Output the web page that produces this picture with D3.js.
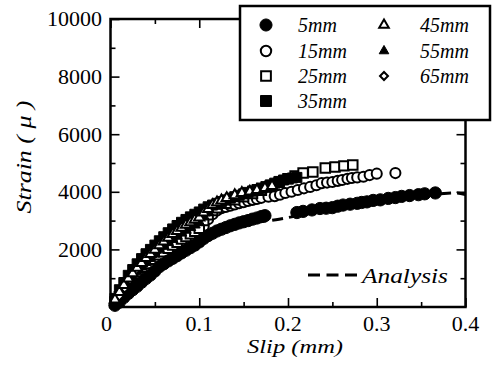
<!DOCTYPE html>
<html>
<head>
<meta charset="utf-8">
<script src="https://cdn.jsdelivr.net/npm/d3@7"></script>
<style>
  html, body { margin: 0; padding: 0; background: #fff; }
  svg { display: block; }
</style>
</head>
<body>
<script>
// Bond-slip test: strain against slip for each embedment depth, plus analysis curve
const xTicks = [0, 0.1, 0.2, 0.3, 0.4];
const yTicks = [2000, 4000, 6000, 8000, 10000];
const seriesNames = ["5mm", "15mm", "25mm", "35mm", "45mm", "55mm", "65mm"];

// [slip (mm), strain (μ)]
const s5mm = [
  [0.005,60],[0.01,170],[0.015,330],[0.02,470],[0.025,600],[0.03,720],[0.035,860],
  [0.04,990],[0.045,1110],[0.05,1250],[0.055,1400],[0.06,1500],[0.065,1600],[0.07,1690],
  [0.075,1780],[0.08,1880],[0.085,1970],[0.09,2060],[0.095,2150],[0.1,2260],[0.105,2380],
  [0.11,2480],[0.115,2560],[0.12,2640],[0.125,2700],[0.13,2760],[0.135,2820],[0.14,2870],
  [0.145,2920],[0.15,2960],[0.155,3000],[0.16,3050],[0.165,3090],[0.17,3140],[0.174,3170],
  [0.21,3280],[0.217,3320],[0.227,3370],[0.236,3420],[0.243,3430],[0.25,3450],[0.256,3500],
  [0.262,3540],[0.27,3570],[0.278,3600],[0.283,3630],[0.289,3650],[0.296,3700],[0.304,3720],
  [0.313,3770],[0.321,3800],[0.328,3840],[0.337,3870],[0.347,3900],[0.354,3930],[0.366,3960]
];
const s15mm = [
  [0.005,120],[0.01,280],[0.015,460],[0.02,630],[0.025,780],[0.03,920],[0.035,1070],
  [0.04,1200],[0.045,1330],[0.05,1480],[0.055,1630],[0.06,1740],[0.065,1850],[0.07,1950],
  [0.075,2040],[0.08,2150],[0.085,2240],[0.09,2330],[0.095,2420],[0.1,2520],[0.105,2800],
  [0.11,3050],[0.115,3220],[0.12,3350],[0.125,3430],[0.13,3470],[0.135,3520],[0.14,3560],
  [0.145,3600],[0.15,3640],[0.155,3680],[0.16,3720],[0.165,3750],[0.17,3790],[0.178,3830],
  [0.185,3850],[0.191,3900],[0.197,3960],[0.204,4000],[0.211,4060],[0.218,4120],
  [0.225,4170],[0.232,4230],[0.238,4300],[0.244,4320],[0.25,4340],[0.256,4380],
  [0.261,4410],[0.267,4450],[0.272,4480],[0.278,4500],[0.285,4520],[0.292,4580],
  [0.3,4630],[0.321,4650]
];
const s25mm = [
  [0.005,170],[0.01,360],[0.015,560],[0.02,750],[0.025,920],[0.03,1070],[0.035,1230],
  [0.04,1380],[0.045,1510],[0.05,1660],[0.055,1810],[0.06,1920],[0.065,2040],[0.07,2150],
  [0.075,2250],[0.08,2360],[0.085,2450],[0.09,2540],[0.095,2630],[0.1,2730],[0.105,3000],
  [0.11,3200],[0.115,3350],[0.12,3450],[0.13,3600],[0.14,3720],[0.15,3830],[0.16,3940],
  [0.17,4050],[0.18,4180],[0.19,4330],[0.2,4450],[0.208,4550],
  [0.217,4650],[0.228,4690],[0.242,4830],[0.253,4860],[0.263,4900],[0.273,4930]
];
const s35mm = [
  [0.005,300],[0.01,600],[0.015,850],[0.02,1100],[0.025,1300],[0.03,1500],[0.035,1680],
  [0.04,1850],[0.045,2000],[0.05,2150],[0.055,2300],[0.06,2440],[0.065,2580],[0.07,2710],
  [0.075,2830],[0.08,2940],[0.085,3040],[0.09,3130],[0.095,3220],[0.1,3300],[0.105,3400],
  [0.11,3480],[0.115,3540],[0.12,3600],[0.125,3660],[0.13,3720],[0.135,3780],[0.14,3830],
  [0.145,3880],[0.15,3930],[0.155,3980],[0.16,4030],[0.165,4080],[0.17,4130],[0.175,4180],
  [0.18,4240],[0.185,4300],[0.19,4360],[0.195,4410],[0.2,4450],[0.205,4480],[0.21,4500]
];
const s45mm = [
  [0.005,260],[0.01,520],[0.015,760],[0.02,990],[0.025,1170],[0.03,1360],[0.035,1530],
  [0.04,1700],[0.045,1840],[0.05,1990],[0.055,2140],[0.06,2270],[0.065,2400],[0.07,2530],
  [0.075,2640],[0.08,2750],[0.085,2850],[0.09,2940],[0.095,3030],[0.1,3110],[0.105,3280],
  [0.11,3400],[0.115,3540],[0.12,3630],[0.125,3700],[0.131,3780],[0.14,3880],[0.148,3960],
  [0.157,4010],[0.165,4060],[0.174,4130],[0.182,4200]
];
const s55mm = [
  [0.005,220],[0.01,450],[0.015,670],[0.02,880],[0.025,1060],[0.03,1230],[0.035,1390],
  [0.04,1550],[0.045,1690],[0.05,1840],[0.055,1990],[0.06,2110],[0.065,2240],[0.07,2350],
  [0.075,2460],[0.08,2570],[0.085,2670],[0.09,2760],[0.095,2850],[0.1,2940],[0.105,3150],
  [0.11,3300],[0.12,3500],[0.13,3650],[0.14,3770],[0.15,3870],[0.16,3960],[0.17,4060],
  [0.18,4150]
];
const s65mm = [
  [0.01,380],[0.016,650],[0.022,940],[0.028,1250],[0.034,1560],[0.04,1700],[0.045,1800],
  [0.05,2050],[0.057,2260],[0.062,2350],[0.067,2430],[0.074,2600],[0.082,2740],
  [0.091,2920],[0.1,3100],[0.108,3300]
];
const analysis = [
  [0,0],[0.02,600],[0.05,1300],[0.1,2250],[0.15,2850],[0.19,3050],[0.23,3280],
  [0.27,3480],[0.31,3680],[0.35,3850],[0.38,3950],[0.39,3960],[0.4,3900]
];

const FONT = "'Liberation Serif', 'Times New Roman', Times, serif";
const W = 493, H = 373;
const svg = d3.select("body").append("svg")
  .attr("width", W).attr("height", H)
  .attr("font-family", FONT);

const x = d3.scaleLinear().domain([0, 0.4]).range([110.5, 465.5]);
const y = d3.scaleLinear().domain([0, 10000]).range([307, 19]);

// marker styles per series
const sym = {
  "5mm":  { type: d3.symbolCircle,   size: 118, fill: "#000", rot: 0 },
  "15mm": { type: d3.symbolCircle,   size: 80,  fill: "#fff", rot: 0 },
  "25mm": { type: d3.symbolSquare,   size: 90,  fill: "#fff", rot: 0 },
  "35mm": { type: d3.symbolSquare,   size: 100, fill: "#000", rot: 0 },
  "45mm": { type: d3.symbolTriangle, size: 45,  fill: "#fff", rot: 0 },
  "55mm": { type: d3.symbolTriangle, size: 50,  fill: "#000", rot: 0 },
  "65mm": { type: d3.symbolSquare,   size: 36,  fill: "#fff", rot: 45 }
};
const dataBy = {
  "5mm": s5mm, "15mm": s15mm, "25mm": s25mm, "35mm": s35mm,
  "45mm": s45mm, "55mm": s55mm, "65mm": s65mm
};

// analysis curve (drawn first, runs beneath the markers)
svg.append("path")
  .datum(analysis)
  .attr("d", d3.line().x(d => x(d[0])).y(d => y(d[1])).curve(d3.curveMonotoneX))
  .attr("fill", "none").attr("stroke", "#000").attr("stroke-width", 3)
  .attr("stroke-dasharray", "11,6");

// markers
const drawOrder = ["15mm", "25mm", "5mm", "55mm", "35mm", "65mm", "45mm"];
drawOrder.forEach(name => {
  const s = sym[name];
  svg.append("g").selectAll("path").data(dataBy[name]).join("path")
    .attr("d", d3.symbol().type(s.type).size(s.size))
    .attr("transform", d => `translate(${x(d[0])},${y(d[1])}) rotate(${s.rot})`)
    .attr("fill", s.fill)
    .attr("stroke", "#000")
    .attr("stroke-width", s.fill === "#fff" ? 2 : 1);
});

// axes: inward ticks on all four sides
const xMinor = d3.range(0.05, 0.4, 0.1);
const yMinor = d3.range(1000, 10000, 2000);
const axisG = svg.append("g");
function ticks(axisFn, scale, vals, len, tr) {
  axisG.append("g").attr("transform", tr)
    .call(axisFn(scale).tickValues(vals).tickSize(len).tickFormat(""))
    .call(g => g.select(".domain").remove())
    .call(g => g.selectAll("line").attr("stroke-width", 1.6));
}
ticks(d3.axisBottom, x, xTicks, -9, "translate(0,307)");
ticks(d3.axisBottom, x, xMinor, -5, "translate(0,307)");
ticks(d3.axisTop, x, xTicks, -9, "translate(0,19)");
ticks(d3.axisTop, x, xMinor, -5, "translate(0,19)");
ticks(d3.axisLeft, y, yTicks, -9, "translate(110.5,0)");
ticks(d3.axisLeft, y, yMinor, -5, "translate(110.5,0)");
ticks(d3.axisRight, y, yTicks, -9, "translate(465.5,0)");
ticks(d3.axisRight, y, yMinor, -5, "translate(465.5,0)");

svg.append("rect")
  .attr("x", x(0)).attr("y", y(10000))
  .attr("width", x(0.4) - x(0)).attr("height", y(0) - y(10000))
  .attr("fill", "none").attr("stroke", "#000").attr("stroke-width", 2.5);

// tick labels
svg.append("g").selectAll("text").data(xTicks).join("text")
  .attr("font-family", FONT)
  .attr("x", d => x(d) - (d === 0 ? 4 : 0)).attr("y", 331)
  .attr("text-anchor", "middle").attr("font-size", 22)
  .text(d => d === 0 ? "0" : d3.format(".1f")(d));
svg.append("g").selectAll("text").data(yTicks).join("text")
  .attr("font-family", FONT)
  .attr("x", 102).attr("y", d => y(d)).attr("dy", "0.34em")
  .attr("text-anchor", "end").attr("font-size", 22)
  .text(d => d);

// axis titles
svg.append("text")
  .attr("font-family", FONT)
  .attr("x", 295).attr("y", 353)
  .attr("text-anchor", "middle").attr("font-size", 19).attr("font-style", "italic")
  .attr("textLength", 96).attr("lengthAdjust", "spacingAndGlyphs")
  .text("Slip (mm)");
svg.append("text")
  .attr("font-family", FONT)
  .attr("transform", "translate(31,157) rotate(-90)")
  .attr("text-anchor", "middle").attr("font-size", 22).attr("font-style", "italic")
  .attr("textLength", 113).attr("lengthAdjust", "spacingAndGlyphs")
  .text("Strain ( μ )");

// legend box
const lg = svg.append("g");
lg.append("rect")
  .attr("x", 240).attr("y", 6).attr("width", 250).attr("height", 114)
  .attr("fill", "#fff").attr("stroke", "#000").attr("stroke-width", 2.5);

const legendPos = [
  [266, 25], [266, 51], [266, 76], [266, 101],
  [384, 25], [384, 51], [384, 76]
];
const legendMarkerSize = {
  "5mm": 115, "15mm": 85, "25mm": 95, "35mm": 120,
  "45mm": 40, "55mm": 40, "65mm": 32
};
seriesNames.forEach((name, i) => {
  const s = sym[name];
  const [lx, ly] = legendPos[i];
  lg.append("path")
    .attr("d", d3.symbol().type(s.type).size(legendMarkerSize[name]))
    .attr("transform", `translate(${lx},${ly}) rotate(${s.rot})`)
    .attr("fill", s.fill).attr("stroke", "#000")
    .attr("stroke-width", s.fill === "#fff" ? 2 : 1);
  lg.append("text")
    .attr("font-family", FONT)
    .attr("x", lx + (i < 4 ? 32 : 36)).attr("y", ly).attr("dy", "0.36em")
    .attr("font-size", 20).attr("font-style", "italic")
    .text(name);
});

// analysis legend inside plot
svg.append("line")
  .attr("x1", 308).attr("x2", 357).attr("y1", 275).attr("y2", 275)
  .attr("stroke", "#000").attr("stroke-width", 3).attr("stroke-dasharray", "12,6.5");
svg.append("text")
  .attr("font-family", FONT)
  .attr("x", 362).attr("y", 283)
  .attr("font-size", 22).attr("font-style", "italic")
  .attr("textLength", 86).attr("lengthAdjust", "spacingAndGlyphs")
  .text("Analysis");
</script>
</body>
</html>
